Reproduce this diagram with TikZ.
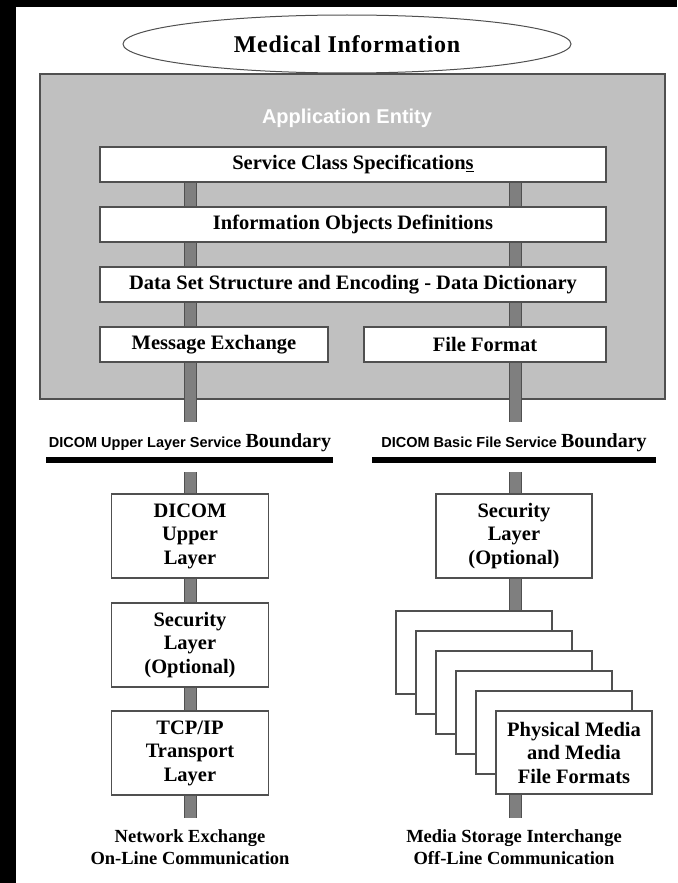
\documentclass[tikz,border=0pt]{standalone}
\usepackage{fontspec}
\setmainfont{Liberation Serif}
\setsansfont{Liberation Sans}
\usetikzlibrary{shapes.geometric}
\definecolor{aegray}{HTML}{C0C0C0}
\definecolor{edgec}{HTML}{505050}
\definecolor{pfill}{HTML}{7F7F7F}
\begin{document}
\begin{tikzpicture}[x=1pt,y=-1pt,
  box/.style={draw=edgec, line width=1.3pt, fill=white, inner sep=0pt,
    font=\bfseries\fontsize{20.5}{23.5}\selectfont, align=center},
  pillar/.style={draw=edgec, line width=1pt, double=pfill, double distance=11pt},
  bline/.style={line width=6pt, black},
  blabel/.style={inner sep=0pt, font=\bfseries},
  bottomlabel/.style={inner sep=0pt, align=center, font=\bfseries\fontsize{18.5}{21.5}\selectfont}]
\fill[black] (0,0) rectangle (677,883);
\fill[white] (16,7) rectangle (677,883);
\useasboundingbox (0,0) rectangle (677,883);

% application entity box
\node[draw=edgec, line width=1.3pt, fill=aegray, minimum width=625pt, minimum height=325pt, inner sep=0pt] (ae) at (352.5,236.5) {};
\node[inner sep=0pt, text=white, font=\sffamily\bfseries\fontsize{20}{22}\selectfont] (aet) at (347,118) {Application Entity};

% ellipse
\node[ellipse, draw=edgec, line width=1pt, fill=white, minimum width=448pt, minimum height=58pt, inner sep=0pt,
  font=\bfseries\fontsize{24}{26}\selectfont\addfontfeatures{LetterSpace=3}] (mi) at (347,44) {Medical Information};

% pillar coordinates
\coordinate (pl) at (190,0);
\coordinate (pr) at (515,0);
\coordinate (ltop) at (190,422);
\coordinate (rtop) at (515,422);
\coordinate (lbot) at (190,472);
\coordinate (rbot) at (515,472);
\coordinate (lend) at (190,818);
\coordinate (rend) at (515,818);

% boxes inside AE
\node[box, minimum width=506pt, minimum height=35pt] (scs) at (353,164.5) {Service Class Specification\underline{s}};
\node[box, minimum width=506pt, minimum height=35pt] (iod) at (353,224.5) {Information Objects Definitions};
\node[box, minimum width=506pt, minimum height=35pt] (dsd) at (353,284.5) {Data Set Structure and Encoding - Data Dictionary};
\node[box, minimum width=228pt, minimum height=35pt] (msg) at (214,344.5) {Message Exchange};
\node[box, minimum width=242pt, minimum height=35pt] (ff) at (485,344.5) {File Format};

% left column
\node[box, minimum width=157pt, minimum height=84pt] (dul) at (190,536) {DICOM\\Upper\\Layer};
\node[box, minimum width=157pt, minimum height=84pt] (lsec) at (190,645) {Security\\Layer\\(Optional)};
\node[box, minimum width=157pt, minimum height=84pt] (tcp) at (190,753) {TCP/IP\\Transport\\Layer};

% right column
\node[box, minimum width=156pt, minimum height=84pt] (rsec) at (514,536) {Security\\Layer\\(Optional)};
\foreach \k in {0,...,4} {
  \node[box, minimum width=156pt, minimum height=83pt] (card\k) at ({474+20*\k},{652.5+20*\k}) {};
}
\node[box, minimum width=156pt, minimum height=83pt] (card5) at (574,752.5) {Physical Media\\and Media\\File Formats};

% pillars (connectors)
\draw[pillar] (scs.south -| pl) -- (iod.north -| pl);
\draw[pillar] (iod.south -| pl) -- (dsd.north -| pl);
\draw[pillar] (dsd.south -| pl) -- (msg.north -| pl);
\draw[pillar] (msg.south -| pl) -- (ltop);
\draw[pillar] (scs.south -| pr) -- (iod.north -| pr);
\draw[pillar] (iod.south -| pr) -- (dsd.north -| pr);
\draw[pillar] (dsd.south -| pr) -- (ff.north -| pr);
\draw[pillar] (ff.south -| pr) -- (rtop);
\draw[pillar] (lbot) -- (dul.north -| lbot);
\draw[pillar] (dul.south -| pl) -- (lsec.north -| pl);
\draw[pillar] (lsec.south -| pl) -- (tcp.north -| pl);
\draw[pillar] (tcp.south -| pl) -- (lend);
\draw[pillar] (rbot) -- (rsec.north -| rbot);
\draw[pillar] (rsec.south -| pr) -- (card0.north -| pr);
\draw[pillar] (card5.south -| pr) -- (rend);

% boundaries
\node[blabel] (lbl) at (190,443) {\sffamily\fontsize{14.5}{16}\selectfont DICOM Upper Layer Service \rmfamily\fontsize{20}{22}\selectfont Boundary};
\node[blabel] (rbl) at (514,443) {\sffamily\fontsize{14.5}{16}\selectfont DICOM Basic File Service \rmfamily\fontsize{20}{22}\selectfont Boundary};
\coordinate (lb1) at (46,460);
\coordinate (lb2) at (333,460);
\coordinate (rb1) at (372,460);
\coordinate (rb2) at (656,460);
\draw[bline] (lb1) -- (lb2);
\draw[bline] (rb1) -- (rb2);

% bottom labels
\node[bottomlabel] (nel) at (190,847) {Network Exchange\\On-Line Communication};
\node[bottomlabel] (msl) at (514,847) {Media Storage Interchange\\Off-Line Communication};
\end{tikzpicture}
\end{document}
